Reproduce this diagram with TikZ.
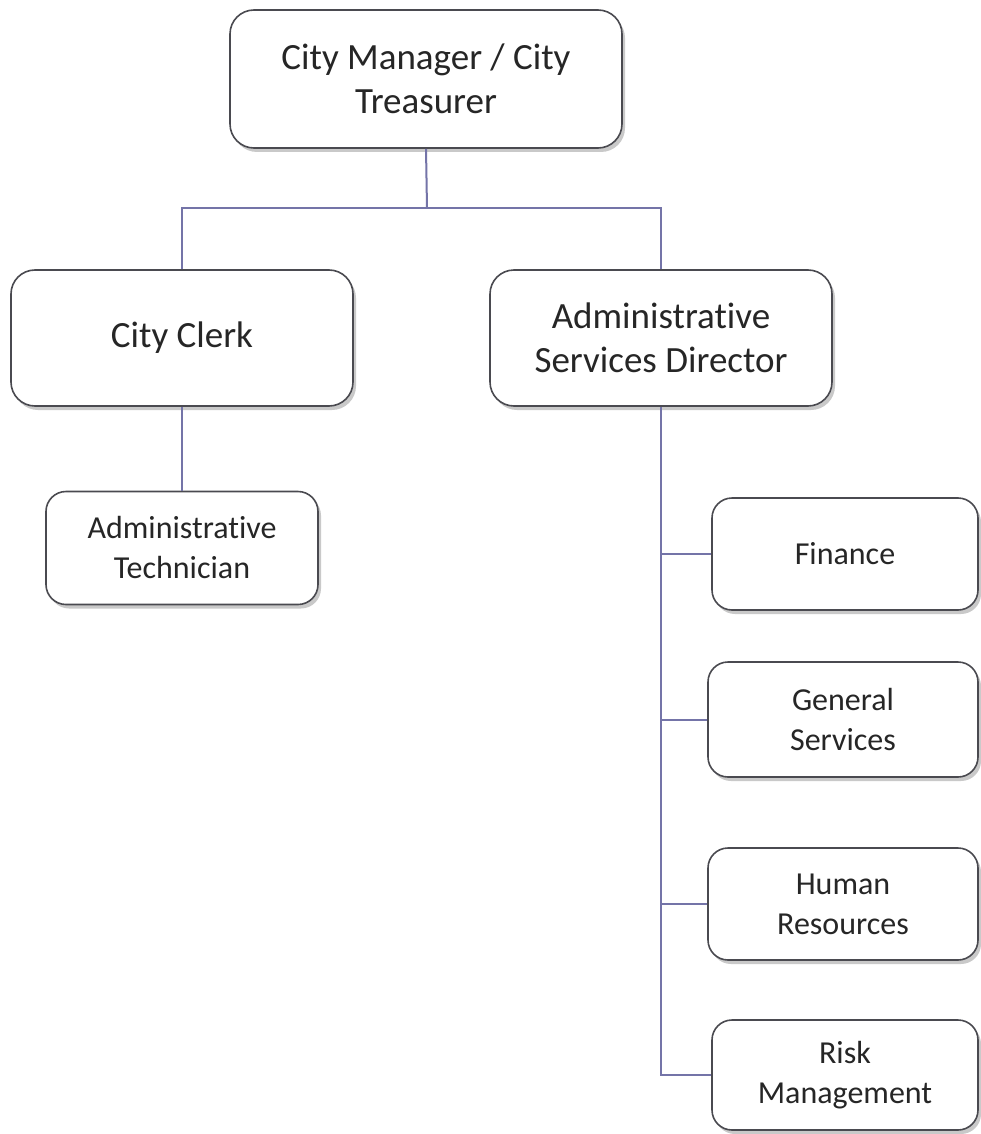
\documentclass[tikz,border=0pt]{standalone}
\usepackage{fontspec}
\setmainfont{Carlito}[Ligatures=NoCommon]
\usetikzlibrary{shadows}
\definecolor{linkcol}{HTML}{7474A8}
\definecolor{boxborder}{HTML}{4A4A50}
\tikzset{
  box/.style={draw=boxborder, line width=1.6pt, fill=white, rounded corners=24pt,
    align=center, inner sep=0pt, text=black!85,
    drop shadow={shadow xshift=3pt, shadow yshift=-4pt, opacity=0.35, fill=black!60}},
  bigbox/.style={box, font=\fontsize{37}{44}\selectfont},
  smallbox/.style={box, rounded corners=20pt, font=\fontsize{32}{40}\selectfont},
  link/.style={draw=linkcol, line width=2pt}
}
\begin{document}
\begin{tikzpicture}[x=1pt,y=-1pt]
\useasboundingbox[fill=white] (0,0) rectangle (980,1134);
\node[bigbox, minimum width=392pt, minimum height=138pt] (cm) at (426,79) {City Manager / City\\Treasurer};
\node[bigbox, minimum width=342pt, minimum height=136pt] (cc) at (182,338) {City Clerk};
\node[bigbox, minimum width=342pt, minimum height=136pt] (asd) at (661,338) {Administrative\\Services Director};
\node[smallbox, minimum width=272pt, minimum height=113pt] (at) at (182,548) {Administrative\\Technician};
\node[smallbox, minimum width=266pt, minimum height=112pt] (fin) at (845,554) {Finance};
\node[smallbox, minimum width=270pt, minimum height=115pt] (gs) at (843,719.5) {General\\Services};
\node[smallbox, minimum width=270pt, minimum height=112pt] (hr) at (843,904) {Human\\Resources};
\node[smallbox, minimum width=266pt, minimum height=110pt] (rm) at (845,1075) {Risk\\Management};
\coordinate (j1) at (427,208);
\draw[link] (cm.south) -- (j1);
\draw[link] (cc.north) |- (j1);
\draw[link] (asd.north) |- (j1);
\draw[link] (cc.south) -- (cc.south |- at.north);
\draw[link] (asd.south) -- (asd.south |- rm.west) -- (rm.west);
\draw[link] (asd.south |- fin.west) -- (fin.west);
\draw[link] (asd.south |- gs.west) -- (gs.west);
\draw[link] (asd.south |- hr.west) -- (hr.west);
\end{tikzpicture}
\end{document}
